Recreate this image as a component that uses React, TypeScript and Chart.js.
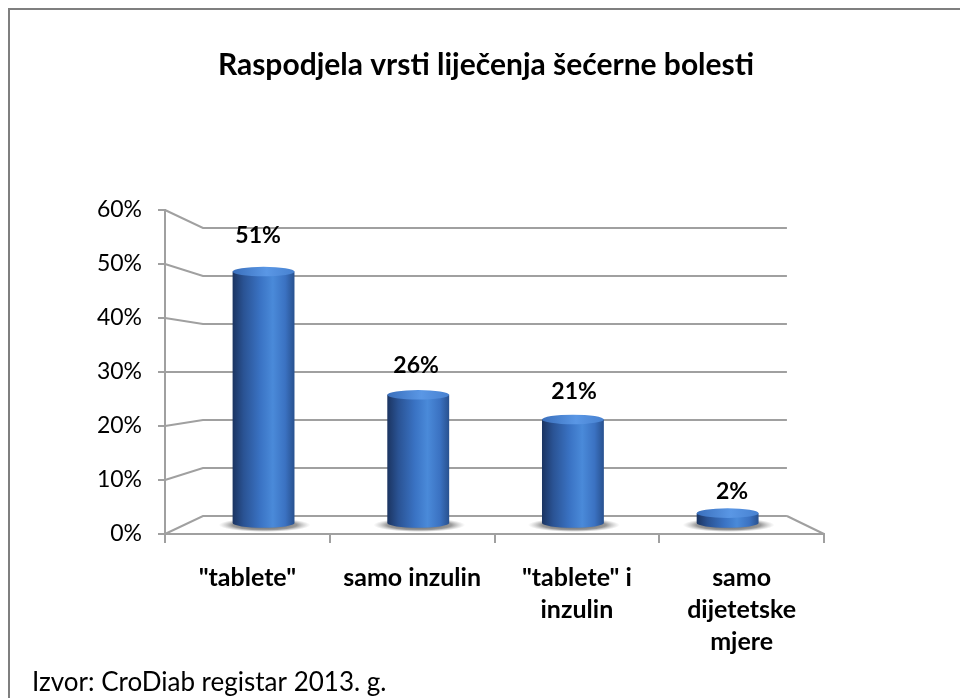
import React, { useEffect, useRef } from "react";
import { Chart, registerables } from "chart.js";

Chart.register(...registerables);

const title = "Raspodjela vrsti liječenja šećerne bolesti";
const source = "Izvor: CroDiab registar 2013. g.";
const categories: string[][] = [
  ['"tablete"'],
  ["samo inzulin"],
  ['"tablete" i', "inzulin"],
  ["samo", "dijetetske", "mjere"],
];
const values = [51, 26, 21, 2];
const valueLabels = ["51%", "26%", "21%", "2%"];
const yTicks = [0, 10, 20, 30, 40, 50, 60];

const FONT = "Lato, 'Open Sans', sans-serif";
const GRID = "#a0a0a0";
const BAR_PCT = 0.4;

function ellipse(ctx: CanvasRenderingContext2D, x: number, y: number, rx: number, ry: number, a0 = 0, a1 = Math.PI * 2) {
  ctx.beginPath();
  ctx.ellipse(x, y, rx, ry, 0, a0, a1);
}

function cylGradient(ctx: CanvasRenderingContext2D, cx: number, w: number) {
  const g = ctx.createLinearGradient(cx - w / 2, 0, cx + w / 2, 0);
  g.addColorStop(0, "#1b3461");
  g.addColorStop(0.18, "#2a5394");
  g.addColorStop(0.45, "#3a73c4");
  g.addColorStop(0.65, "#4a8ad9");
  g.addColorStop(0.85, "#3b72c2");
  g.addColorStop(1, "#28518f");
  return g;
}

const cylinderPlugin = {
  id: "cylinder3d",
  beforeDraw(chart: any) {
    const ctx = chart.ctx as CanvasRenderingContext2D;
    ctx.save();
    ctx.fillStyle = "#ffffff";
    ctx.fillRect(0, 0, chart.width, chart.height);
    ctx.strokeStyle = "#7f7f7f";
    ctx.lineWidth = 2;
    ctx.beginPath();
    ctx.moveTo(chart.width + 5, 9);
    ctx.lineTo(9, 9);
    ctx.lineTo(9, chart.height + 5);
    ctx.stroke();
    ctx.fillStyle = "#000";
    ctx.font = `bold 30px ${FONT}`;
    ctx.textAlign = "center";
    ctx.textBaseline = "alphabetic";
    ctx.fillText(title, 486, 75);
    ctx.font = `26px ${FONT}`;
    ctx.textAlign = "left";
    ctx.fillText(source, 32, 691);
    ctx.restore();
  },
  beforeDatasetsDraw(chart: any) {
    const ctx = chart.ctx as CanvasRenderingContext2D;
    const { left, right } = chart.chartArea;
    const y = chart.scales.y;
    const yw = chart.scales.ywall;
    const xw = chart.scales.xwall;
    const bx0 = xw.getPixelForValue(-0.5);
    const bx1 = xw.getPixelForValue(categories.length - 0.5);
    ctx.save();
    ctx.strokeStyle = GRID;
    ctx.lineWidth = 2;
    yTicks.forEach((v) => {
      ctx.beginPath();
      ctx.moveTo(left, y.getPixelForValue(v));
      ctx.lineTo(bx0, yw.getPixelForValue(v));
      ctx.lineTo(bx1, yw.getPixelForValue(v));
      ctx.stroke();
    });
    ctx.beginPath();
    ctx.moveTo(bx1, yw.getPixelForValue(0));
    ctx.lineTo(right, y.getPixelForValue(0));
    ctx.stroke();

    const meta = chart.getDatasetMeta(0);
    meta.data.forEach((el: any) => {
      const p = el.getProps(["x", "y", "base", "width"], true);
      if (![p.x, p.base, p.width].every(Number.isFinite)) return;
      const rx = p.width / 2 + 15;
      const ry = 7;
      ctx.save();
      ctx.translate(p.x + 1, p.base + 2);
      ctx.scale(1, ry / rx);
      const g = ctx.createRadialGradient(0, 0, 0, 0, 0, rx);
      g.addColorStop(0, "rgba(30,30,30,0.8)");
      g.addColorStop(0.7, "rgba(70,70,70,0.55)");
      g.addColorStop(1, "rgba(140,140,140,0)");
      ctx.fillStyle = g;
      ctx.beginPath();
      ctx.arc(0, 0, rx, 0, Math.PI * 2);
      ctx.fill();
      ctx.restore();
    });
    ctx.restore();
  },
  afterDatasetsDraw(chart: any) {
    const ctx = chart.ctx as CanvasRenderingContext2D;
    const meta = chart.getDatasetMeta(0);
    const xl = chart.scales.xlab;
    const yl = chart.scales.ylab;
    ctx.save();
    meta.data.forEach((el: any, i: number) => {
      const p = el.getProps(["x", "y", "base", "width"], true);
      if (![p.x, p.y, p.base, p.width].every(Number.isFinite)) return;
      const rx = p.width / 2;
      const ry = 4.8;
      ellipse(ctx, p.x, p.base, rx, ry, 0, Math.PI);
      ctx.fillStyle = cylGradient(ctx, p.x, p.width);
      ctx.fill();
      const tg = ctx.createLinearGradient(p.x - rx, 0, p.x + rx, 0);
      tg.addColorStop(0, "#3a6fbc");
      tg.addColorStop(0.55, "#5a97e5");
      tg.addColorStop(1, "#4781d0");
      ellipse(ctx, p.x, p.y, rx, ry);
      ctx.fillStyle = tg;
      ctx.fill();
      ctx.fillStyle = "#000";
      ctx.font = `bold 23px ${FONT}`;
      ctx.textAlign = "center";
      ctx.textBaseline = "alphabetic";
      ctx.fillText(valueLabels[i], xl.getPixelForValue(i), yl.getPixelForValue(values[i]));
    });
    ctx.restore();
  },
};

function barGradient(c: any) {
  const chart = c.chart;
  const xs = chart.scales && chart.scales.xb;
  if (!xs || c.dataIndex === undefined) return "#3a6fc0";
  const cx = xs.getPixelForValue(c.dataIndex);
  const w = BAR_PCT * Math.abs(xs.getPixelForValue(1) - xs.getPixelForValue(0));
  if (!Number.isFinite(cx) || !Number.isFinite(w) || w <= 0) return "#3a6fc0";
  return cylGradient(chart.ctx, cx, w);
}

const indexTicks = (s: any) => {
  s.ticks = values.map((_, i) => ({ value: i }));
};

export default function App() {
  const ref = useRef<HTMLCanvasElement | null>(null);
  useEffect(() => {
    document.body.style.margin = "0";
    const canvas = ref.current!;
    const chart = new Chart(canvas, {
      type: "bar",
      data: {
        labels: categories as any,
        datasets: [
          {
            data: values.map((v, i) => ({ x: i, y: v })) as any,
            xAxisID: "xb",
            yAxisID: "yb",
            backgroundColor: barGradient as any,
            borderWidth: 0,
            barPercentage: BAR_PCT,
            categoryPercentage: 1,
          },
        ],
      },
      options: {
        responsive: false,
        animation: false,
        devicePixelRatio: 1,
        layout: { padding: { left: 75, right: 136, top: 210, bottom: 0 } },
        plugins: { legend: { display: false }, tooltip: { enabled: false }, title: { display: false } },
        scales: {
          x: {
            type: "category",
            position: "bottom",
            offset: true,
            afterFit: (s: any) => { s.height = 164; },
            grid: { offset: true, drawOnChartArea: false, drawTicks: true, tickLength: 9, color: GRID, lineWidth: 2 },
            border: { color: GRID, width: 2 },
            ticks: {
              autoSkip: false,
              maxRotation: 0,
              minRotation: 0,
              color: "#000",
              padding: 19,
              font: { family: FONT, size: 25, weight: "bold", lineHeight: "32px" },
            },
          },
          y: {
            type: "linear",
            position: "left",
            min: 0,
            max: 60,
            afterFit: (s: any) => { s.width = 90; },
            grid: { drawOnChartArea: false, drawTicks: true, tickLength: 7, color: GRID, lineWidth: 2 },
            border: { color: GRID, width: 2 },
            ticks: {
              stepSize: 10,
              padding: 16,
              color: "#000",
              font: { family: FONT, size: 23 },
              callback: (v: any) => v + "%",
            },
          },
          xb: { type: "linear", display: false, offset: false, min: -0.637, max: 3.623, afterBuildTicks: indexTicks },
          yb: { type: "linear", display: false, position: "left", min: -2.231, max: 63.49 },
          xwall: { type: "linear", display: false, offset: false, min: -0.76, max: 3.754 },
          ywall: { type: "linear", display: false, position: "left", min: -3.75, max: 63.75 },
          xlab: { type: "linear", display: false, offset: false, min: -0.589, max: 3.582 },
          ylab: { type: "linear", display: false, position: "left", min: -4.79, max: 57.28 },
        },
      },
      plugins: [cylinderPlugin],
    });
    return () => chart.destroy();
  }, []);
  return (
    <div style={{ width: 960, height: 698, position: "relative", overflow: "hidden" }}>
      <canvas ref={ref} width={960} height={698} style={{ display: "block", width: 960, height: 698 }} />
    </div>
  );
}
